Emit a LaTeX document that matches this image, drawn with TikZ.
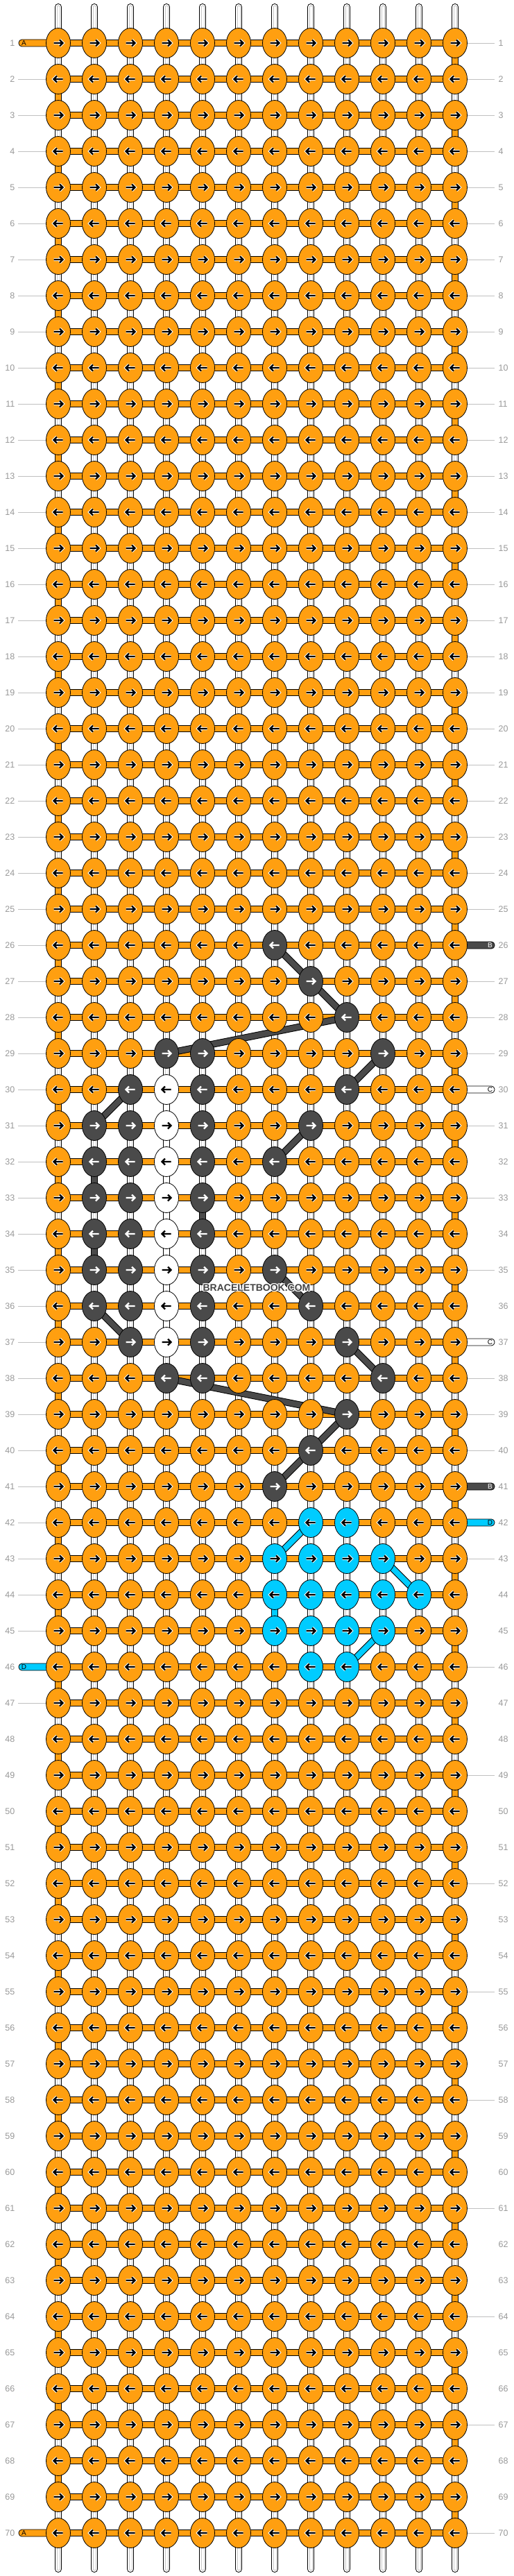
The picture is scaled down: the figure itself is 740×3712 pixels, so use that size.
\documentclass[tikz,border=0pt]{standalone}
\usepackage{fontspec}
\setmainfont{Liberation Sans}
\usetikzlibrary{shapes.geometric}
\definecolor{kor}{HTML}{FF9F10}
\definecolor{kdk}{HTML}{4A4A4A}
\definecolor{kcy}{HTML}{00CCFF}
\definecolor{kwh}{HTML}{FFFFFF}
\definecolor{lbl}{HTML}{999999}
\definecolor{lln}{HTML}{C0C0C0}
\definecolor{sgr}{HTML}{C8C8C8}
\definecolor{wmk}{HTML}{444444}
\newcommand\setk[3]{\expandafter\gdef\csname kc#1-#2\endcsname{#3}}
\newcommand\setrow[3]{\foreach \cc in {#2}{\setk{#1}{\cc}{#3}}}
\newcommand\setst[3]{\expandafter\gdef\csname sc#1-#2\endcsname{#3}}
\def\dkname{kdk}
% dark knots
\setrow{26}{7}{kdk}
\setrow{27}{8}{kdk}
\setrow{28}{9}{kdk}
\setrow{29}{4,5,10}{kdk}
\setrow{30}{3,5,9}{kdk}
\setrow{31}{2,3,5,8}{kdk}
\setrow{32}{2,3,5,7}{kdk}
\setrow{33}{2,3,5}{kdk}
\setrow{34}{2,3,5}{kdk}
\setrow{35}{2,3,5,7}{kdk}
\setrow{36}{2,3,5,8}{kdk}
\setrow{37}{3,5,9}{kdk}
\setrow{38}{4,5,10}{kdk}
\setrow{39}{9}{kdk}
\setrow{40}{8}{kdk}
\setrow{41}{7}{kdk}
% white knots
\foreach \rr in {30,...,37}{\setk{\rr}{4}{kwh}}
% cyan knots
\setrow{42}{8,9}{kcy}
\setrow{43}{7,8,9,10}{kcy}
\setrow{44}{7,8,9,10,11}{kcy}
\setrow{45}{7,8,9,10}{kcy}
\setrow{46}{8,9}{kcy}
% coloured links between rows
\setst{32}{2}{kdk}\setst{33}{5}{kdk}\setst{34}{2}{kdk}\setst{44}{7}{kcy}
\foreach \rr in {30,...,36}{\setst{\rr}{4}{kwh}}
\foreach \rr in {1,...,69}{\ifodd\rr\relax\setst{\rr}{12}{kor}\else\setst{\rr}{1}{kor}\fi}
\begin{document}
\begin{tikzpicture}[x=1pt,y=-1pt,
  knot/.style={ellipse,draw=black,line width=0.8pt,minimum width=35pt,minimum height=43pt,inner sep=0pt,outer sep=0pt},
  rowno/.style={text=lbl,font=\fontsize{12.5}{14}\selectfont,inner sep=0pt},
  tagl/.style={font=\fontsize{10}{12}\selectfont,inner sep=0pt},
  rim/.style={line width=10pt},
  core/.style={line width=8pt},
  sidebar/.style={draw=black,line width=0.8pt,rounded corners=4.6pt},
  arrowln/.style={line width=2.2pt,line join=miter},
  halo/.style={white,line width=4.4pt,line join=miter},
  wmfont/.style={font=\bfseries\fontsize{14}{16}\selectfont,inner sep=0pt}]
\useasboundingbox (0,0) rectangle (740,3712);
\fill[white] (0,0) rectangle (740,3712);
\foreach \r in {1,...,70}{\foreach \c in {1,...,12}{\coordinate (p-\r-\c) at ({32+52*\c},{10+52*\r});}}
% vertical threads
\foreach \c in {1,...,12}{
  \coordinate (t-\c) at ({32+52*\c},10);
  \coordinate (b-\c) at ({32+52*\c},3702);
  \draw[line width=10pt,line cap=round] (t-\c) -- (b-\c);
  \draw[white,line width=8pt,line cap=round] (t-\c) -- (b-\c);
  \draw[sgr,line width=5pt,line cap=round] (t-\c) -- (b-\c);
  \draw[white,line width=3pt,line cap=round] (t-\c) -- (b-\c);
}
% row numbers
\foreach \r in {1,...,70}{
  \node[rowno,anchor=east] (ln-\r) at (21.5,{10+52*\r}) {\r};
  \node[rowno,anchor=west] (rn-\r) at (718.5,{10+52*\r}) {\r};
}
\foreach \r in {2,...,45,47,...,69}{
  \coordinate (lx-\r) at (26,{10+52*\r});
  \draw[lln,line width=0.8pt] (lx-\r) -- (p-\r-1);
}
\foreach \r in {1,...,25,27,28,29,31,...,36,38,39,40,43,...,70}{
  \coordinate (rx-\r) at (713,{10+52*\r});
  \draw[lln,line width=0.8pt] (p-\r-12) -- (rx-\r);
}
% links between rows
\foreach \r [evaluate=\r as \rn using int(\r+1)] in {1,...,69}{
  \foreach \c in {1,...,12}{
    \ifcsname sc\r-\c\endcsname
      \edef\scol{\csname sc\r-\c\endcsname}
      \draw[rim] (p-\r-\c) -- (p-\rn-\c);
      \draw[\scol,core] (p-\r-\c) -- (p-\rn-\c);
    \fi
  }
}
% row threads
\foreach \r in {1,...,70}{
  \draw[rim] (p-\r-1) -- (p-\r-12);
  \draw[kor,core] (p-\r-1) -- (p-\r-12);
}
% side strands
\foreach \r/\cl/\tg/\tc in {1/kor/A/black,46/kcy/D/black,70/kor/A/black}{
  \draw[sidebar,fill=\cl] (27,{5+52*\r}) rectangle (88,{15+52*\r});
  \node[tagl,text=\tc] (tl-\r) at (34.5,{10.5+52*\r}) {\tg};
}
\foreach \r/\cl/\tg/\tc in {26/kdk/B/white,30/kwh/C/black,37/kwh/C/black,41/kdk/B/white,42/kcy/D/black}{
  \draw[sidebar,fill=\cl] (652,{5+52*\r}) rectangle (713,{15+52*\r});
  \node[tagl,text=\tc] (tr-\r) at (706.5,{10.5+52*\r}) {\tg};
}
% diagonal strands
\foreach \a/\b/\cl in {26-7/27-8/kdk,27-8/28-9/kdk,28-9/29-4/kdk,29-10/30-9/kdk,30-3/31-2/kdk,31-8/32-7/kdk,35-7/36-8/kdk,36-2/37-3/kdk,37-9/38-10/kdk,38-4/39-9/kdk,39-9/40-8/kdk,40-8/41-7/kdk,42-8/43-7/kcy,43-10/44-11/kcy,45-10/46-9/kcy}{
  \draw[rim] (p-\a) -- (p-\b);
  \draw[\cl,core] (p-\a) -- (p-\b);
}
% knots
\foreach \r in {1,...,70}{
  \ifodd\r\relax\def\dir{1}\else\def\dir{-1}\fi
  \foreach \c in {1,...,12}{
    \edef\kcol{\ifcsname kc\r-\c\endcsname\csname kc\r-\c\endcsname\else kor\fi}
    \node[knot,fill=\kcol] (k-\r-\c) at (p-\r-\c) {};
    \begin{scope}[shift={(p-\r-\c)},xscale=\dir]
      \ifx\kcol\dkname
        \draw[white,arrowln] (-6.5,0) -- (5.5,0) (2,-4.5) -- (6.5,0) -- (2,4.5);
      \else
        \draw[halo] (-6.5,0) -- (5.5,0) (2,-4.5) -- (6.5,0) -- (2,4.5);
        \draw[black,arrowln] (-6.5,0) -- (5.5,0) (2,-4.5) -- (6.5,0) -- (2,4.5);
      \fi
    \end{scope}
  }
}
% watermark
\foreach \dx/\dy [count=\i] in {-1/0,1/0,0/-1,0/1,-1/-1,1/1,-1/1,1/-1}{
  \node[wmfont,text=white] (wh-\i) at ({370+\dx},{1856+\dy}) {BRACELETBOOK.COM};
}
\node[wmfont,text=wmk] (wm) at (370,1856) {BRACELETBOOK.COM};
\end{tikzpicture}
\end{document}
